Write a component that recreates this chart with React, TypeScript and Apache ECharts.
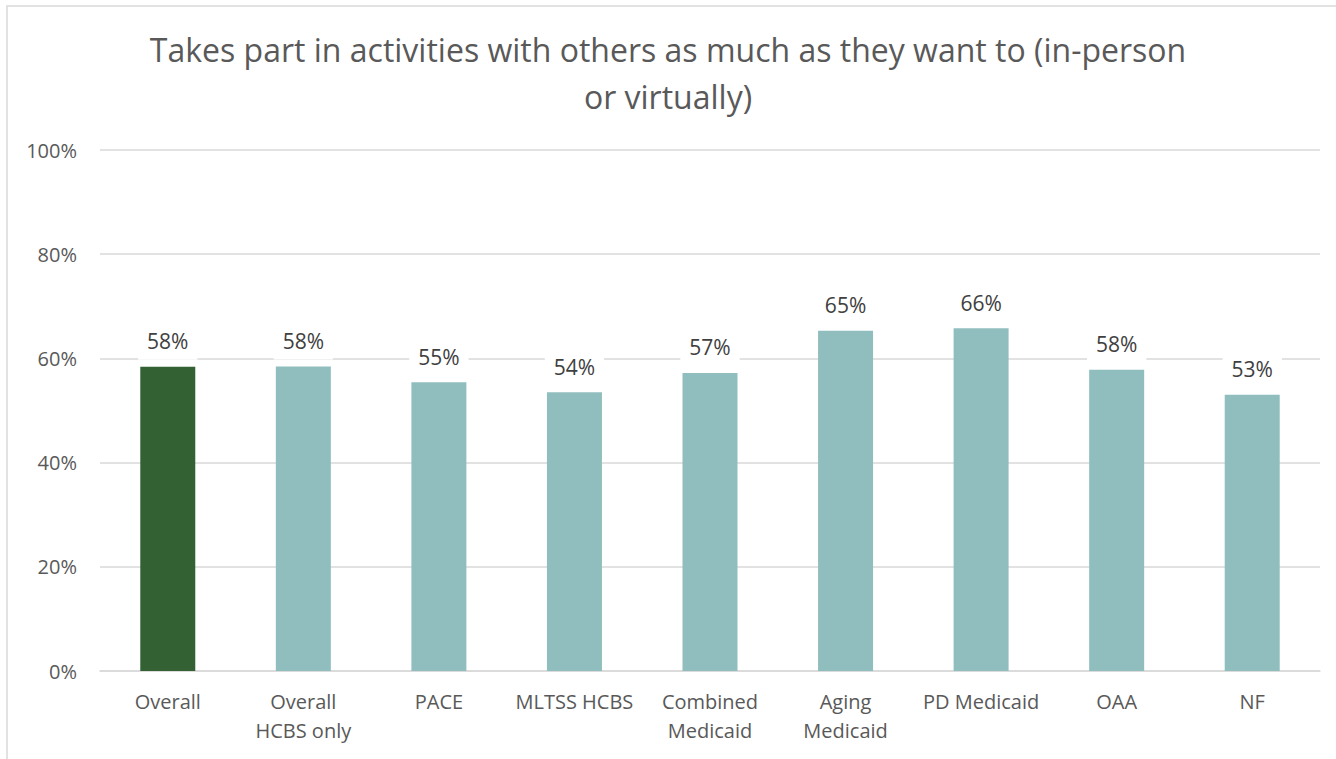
import React, { useEffect, useRef } from "react";
import * as echarts from "echarts";

const titleText = "Takes part in activities with others as much as they want to (in-person\nor virtually)";
const categories = [
  "Overall",
  "Overall\nHCBS only",
  "PACE",
  "MLTSS HCBS",
  "Combined\nMedicaid",
  "Aging\nMedicaid",
  "PD Medicaid",
  "OAA",
  "NF",
];
const values = [58.4, 58.45, 55.4, 53.5, 57.2, 65.3, 65.8, 57.8, 53.0];
const barColors = ["#336133", "#90bebe", "#90bebe", "#90bebe", "#90bebe", "#90bebe", "#90bebe", "#90bebe", "#90bebe"];
const yTicks = [0, 20, 40, 60, 80, 100];

const FONT = "'Open Sans', 'Noto Sans', sans-serif";

export default function App() {
  const ref = useRef<HTMLDivElement>(null);
  useEffect(() => {
    if (!ref.current) return;
    const chart = echarts.init(ref.current, null, { renderer: "svg" });
    chart.setOption({
      animation: false,
      backgroundColor: "#ffffff",
      textStyle: { fontFamily: FONT },
      title: {
        text: titleText,
        left: "center",
        top: 26,
        padding: 0,
        textStyle: {
          fontFamily: FONT,
          fontSize: 32,
          fontWeight: "normal",
          color: "#595959",
          lineHeight: 47,
        },
      },
      graphic: [
        {
          type: "rect",
          shape: { x: 7, y: 6, width: 1400, height: 800 },
          style: { fill: "none", stroke: "#d9d9d9", lineWidth: 1.5 },
          silent: true,
          z: -1,
        },
      ],
      grid: { left: 100, right: 16, top: 150, bottom: 88, containLabel: false },
      xAxis: {
        type: "category",
        data: categories,
        axisLine: { show: true, lineStyle: { color: "#d9d9d9", width: 1.5 } },
        axisTick: { show: false },
        axisLabel: {
          interval: 0,
          fontFamily: FONT,
          fontSize: 20,
          lineHeight: 29,
          color: "#595959",
          margin: 16,
        },
      },
      yAxis: {
        type: "value",
        min: yTicks[0],
        max: yTicks[yTicks.length - 1],
        interval: 20,
        axisLine: { show: false },
        axisTick: { show: false },
        splitLine: { lineStyle: { color: "#d9d9d9", width: 1.5 } },
        axisLabel: {
          fontFamily: FONT,
          fontSize: 20,
          color: "#595959",
          margin: 23,
          formatter: (v: number) => `${v}%`,
        },
      },
      series: [
        {
          type: "bar",
          barWidth: 55,
          data: values.map((v, i) => ({ value: v, itemStyle: { color: barColors[i] } })),
          label: {
            show: true,
            position: "top",
            distance: 7,
            fontFamily: FONT,
            fontSize: 21,
            color: "#404040",
            backgroundColor: "#ffffff",
            padding: [3, 9, 8, 9],
            formatter: (p: any) => `${Math.round(p.value)}%`,
          },
        },
      ],
    });
    return () => chart.dispose();
  }, []);
  return (
    <div
      ref={ref}
      style={{ position: "absolute", left: 0, top: 0, width: 1336, height: 759 }}
    />
  );
}
